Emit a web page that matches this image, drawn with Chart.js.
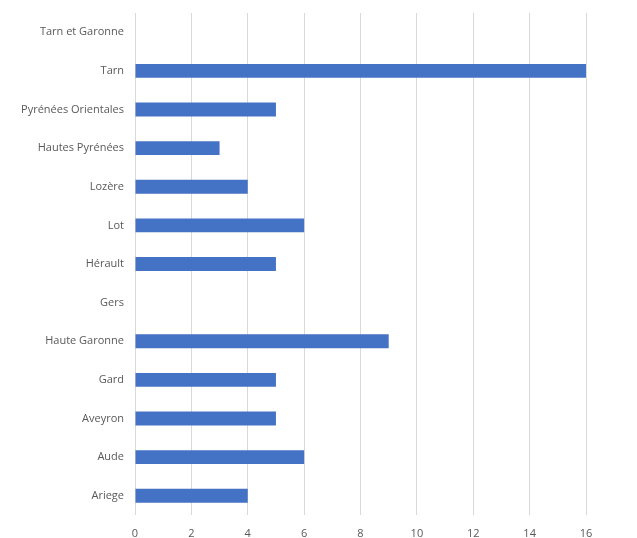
<!DOCTYPE html>
<html>
<head>
<meta charset="utf-8">
<script src="https://cdn.jsdelivr.net/npm/chart.js@4/dist/chart.umd.min.js"></script>
<style>
  html, body { margin: 0; padding: 0; background: #ffffff; }
</style>
</head>
<body>
<canvas id="myBarChart" width="637" height="538"></canvas>
<script>
const departements = [
  "Tarn et Garonne",
  "Tarn",
  "Pyrénées Orientales",
  "Hautes Pyrénées",
  "Lozère",
  "Lot",
  "Hérault",
  "Gers",
  "Haute Garonne",
  "Gard",
  "Aveyron",
  "Aude",
  "Ariege",
];
const valeurs = [0, 16, 5, 3, 4, 6, 5, 0, 9, 5, 5, 6, 4];
const xMin = 0;
const xMax = 16;
const xStep = 2;

const ctx = document.getElementById("myBarChart");
const labelFont = { family: "'Open Sans', sans-serif", size: 11 };

new Chart(ctx, {
  type: "bar",
  data: {
    labels: departements,
    datasets: [
      {
        data: valeurs,
        backgroundColor: "#4472c4",
        borderWidth: 0,
        categoryPercentage: 1,
        barPercentage: 0.36,
      },
    ],
  },
  options: {
    indexAxis: "y",
    responsive: false,
    animation: false,
    layout: { padding: { top: 13, right: 51, bottom: 0, left: 0 } },
    plugins: {
      legend: { display: false },
      tooltip: { enabled: false },
    },
    scales: {
      x: {
        min: xMin,
        max: xMax,
        ticks: { stepSize: xStep, color: "#595959", font: labelFont, padding: 12 },
        grid: { color: "#d9d9d9", drawTicks: false },
        border: { display: false },
        afterFit: (scale) => {
          scale.height = 23;
          scale.paddingLeft = 0;
          scale.paddingRight = 0;
        },
      },
      y: {
        ticks: { color: "#595959", font: labelFont, padding: 11 },
        grid: { display: false, drawTicks: false },
        border: { display: false },
        afterFit: (scale) => {
          scale.width = 135;
          scale.paddingTop = 0;
          scale.paddingBottom = 0;
        },
      },
    },
  },
});
</script>
</body>
</html>
